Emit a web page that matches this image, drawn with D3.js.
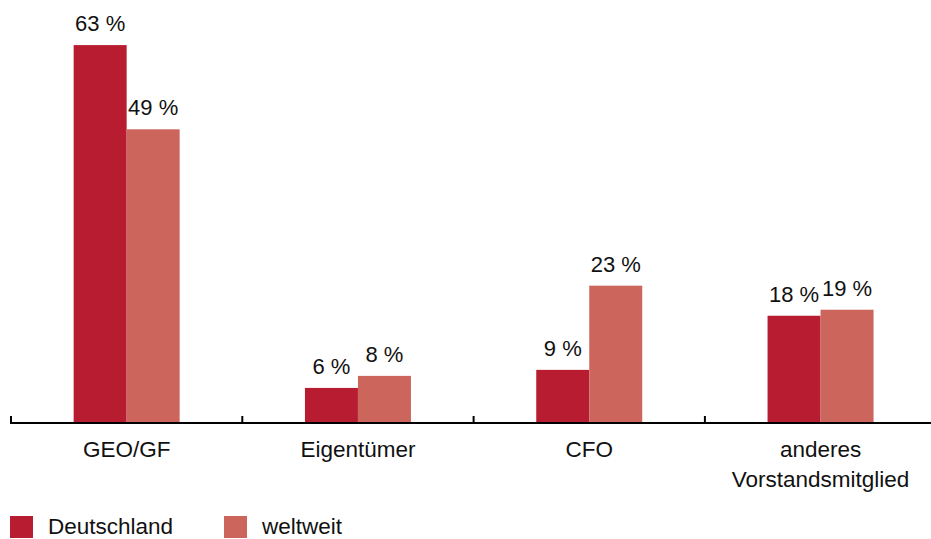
<!DOCTYPE html>
<html>
<head>
<meta charset="utf-8">
<script src="https://cdn.jsdelivr.net/npm/d3@7"></script>
<style>
  html, body { margin: 0; padding: 0; background: #fff; }
  svg { display: block; }
</style>
</head>
<body>
<script>
// Daten
const categories = [["GEO/GF"], ["Eigentümer"], ["CFO"], ["anderes", "Vorstandsmitglied"]];
const series = ["Deutschland", "weltweit"];
const deutschland = [63, 6, 9, 18];
const weltweit = [49, 8, 23, 19];
const colors = ["#b81c31", "#cc665c"];

const width = 931, height = 539;
const values = [deutschland, weltweit];

const svg = d3.select("body").append("svg")
    .attr("width", width)
    .attr("height", height)
    .attr("font-family", "'Liberation Sans', Arial, sans-serif")
    .attr("font-size", "22px")
    .attr("fill", "#111");

const keys = categories.map(c => c.join(" "));

const x0 = d3.scaleBand()
    .domain(keys)
    .range([11, 11 + 4 * 231.3]);

const barW = 53;
const x1 = d3.scaleBand()
    .domain(series)
    .range([x0.bandwidth() / 2 - barW, x0.bandwidth() / 2 + barW]);

const y = d3.scaleLinear()
    .domain([0, 70])
    .range([424, 3]);

// Balken
const rows = [];
keys.forEach((k, i) => series.forEach((s, j) => rows.push({ k, s, j, v: values[j][i] })));

svg.selectAll("rect.bar")
    .data(rows)
    .join("rect")
    .attr("class", "bar")
    .attr("x", d => x0(d.k) + x1(d.s))
    .attr("y", d => y(d.v))
    .attr("width", x1.bandwidth())
    .attr("height", d => y(0) - y(d.v))
    .attr("fill", d => colors[d.j]);

// Beschriftungen
svg.selectAll("text.val")
    .data(rows)
    .join("text")
    .attr("class", "val")
    .attr("x", d => x0(d.k) + x1(d.s) + x1.bandwidth() / 2)
    .attr("y", d => y(d.v) - 14)
    .attr("text-anchor", "middle")
    .text(d => d.v + " %");

// Achse
const axisY = 423;
svg.append("line")
    .attr("x1", 10).attr("x2", width + 6)
    .attr("y1", axisY).attr("y2", axisY)
    .attr("stroke", "#000").attr("stroke-width", 2);

const ticks = keys.map(k => x0(k));
svg.selectAll("line.tick")
    .data(ticks)
    .join("line")
    .attr("class", "tick")
    .attr("x1", d => d).attr("x2", d => d)
    .attr("y1", axisY - 7).attr("y2", axisY)
    .attr("stroke", "#000").attr("stroke-width", 2);

const cat = svg.selectAll("text.cat")
    .data(categories)
    .join("text")
    .attr("class", "cat")
    .attr("text-anchor", "middle")
    .attr("font-size", "22.5px")
    .attr("x", (d, i) => x0(keys[i]) + x0.bandwidth() / 2)
    .attr("y", 457);
cat.selectAll("tspan")
    .data(d => d)
    .join("tspan")
    .attr("x", function() { return this.parentNode.getAttribute("x"); })
    .attr("dy", (d, i) => i === 0 ? 0 : 30)
    .text(d => d);

// Legende
const legend = svg.selectAll("g.leg")
    .data(series)
    .join("g")
    .attr("class", "leg")
    .attr("transform", (d, i) => `translate(${10 + i * 214},516)`);
legend.append("rect")
    .attr("width", 23).attr("height", 22)
    .attr("fill", (d, i) => colors[i]);
legend.append("text")
    .attr("x", 38).attr("y", 18)
    .attr("font-size", "22.5px")
    .text(d => d);
</script>
</body>
</html>
